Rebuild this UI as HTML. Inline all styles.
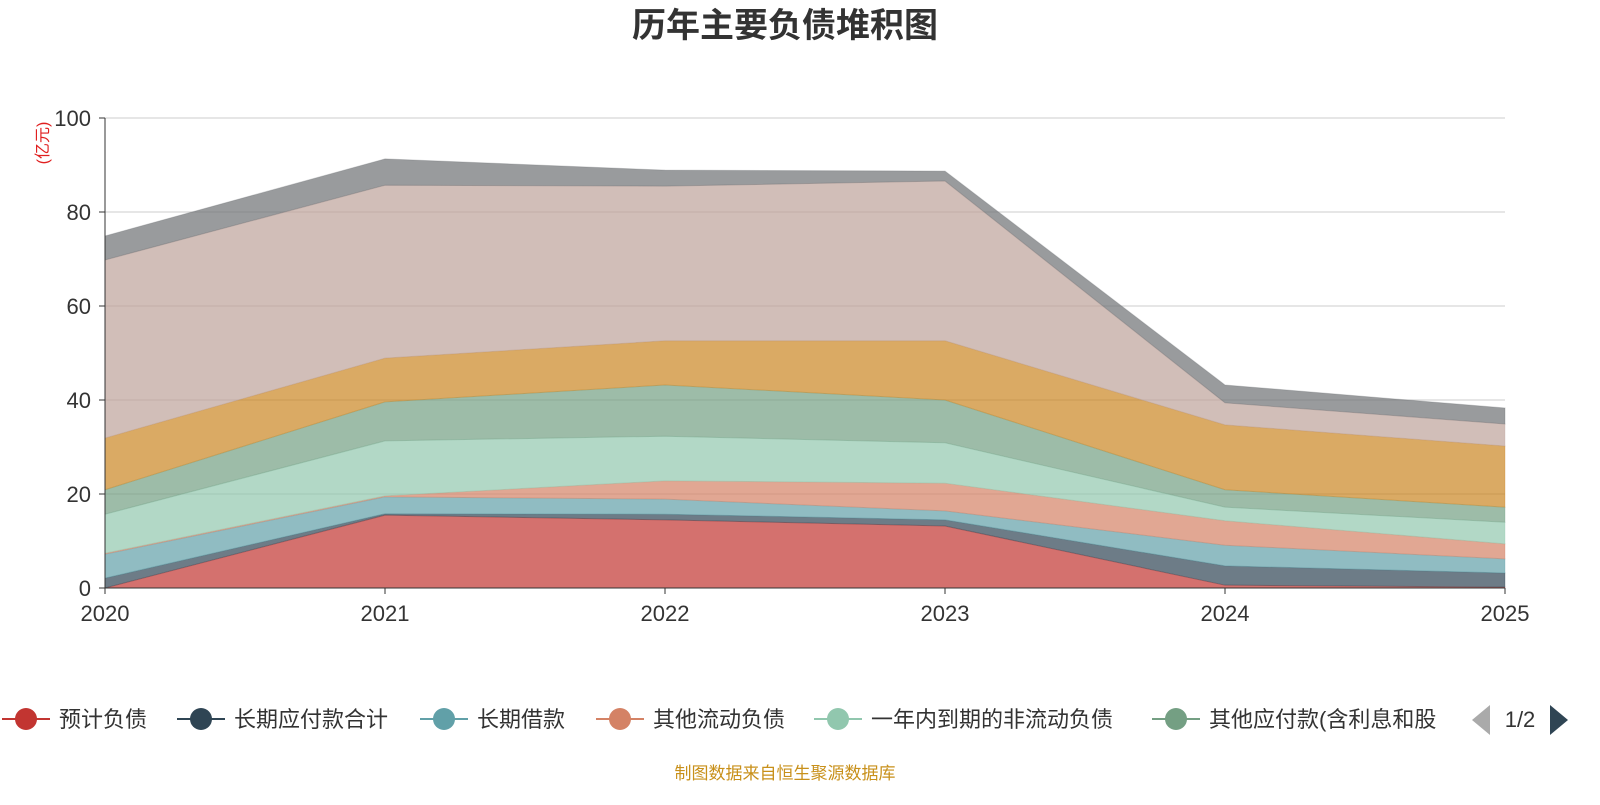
<!DOCTYPE html>
<html><head><meta charset="utf-8"><style>
body{margin:0;background:#fff;width:1600px;height:800px;overflow:hidden;font-family:"Liberation Sans","Noto Sans CJK SC",sans-serif}
</style></head><body>
<svg id="c" width="1600" height="800" xmlns="http://www.w3.org/2000/svg">
<text x="785" y="37" text-anchor="middle" font-size="34" font-weight="bold" fill="#333" font-family="Liberation Sans,Noto Sans CJK SC,sans-serif">历年主要负债堆积图</text>
<text transform="translate(48,143) rotate(-90)" text-anchor="middle" font-size="16" fill="#e02020" font-family="Liberation Sans,Noto Sans CJK SC,sans-serif">(亿元)</text>
<g id="grid"></g><g id="areas"></g><g id="axes"></g><g id="legend"></g>
<text x="785" y="779" text-anchor="middle" font-size="17" fill="#c8901a" font-family="Liberation Sans,Noto Sans CJK SC,sans-serif">制图数据来自恒生聚源数据库</text>
</svg>
<script>
const years=["2020","2021","2022","2023","2024","2025"];
const yTicks=[0,20,40,60,80,100];
const seriesNames=["预计负债","长期应付款合计","长期借款","其他流动负债","一年内到期的非流动负债","其他应付款(含利息和股","s7","s8","s9"];
const s1=[0,15.5,14.5,13.2,0.6,0.2];
const s2=[2.1,0.3,1.2,1.3,4.1,3.0];
const s3=[5.1,3.6,3.2,1.9,4.4,3.0];
const s4=[0.2,0.2,3.9,5.9,5.2,3.2];
const s5=[8.3,11.7,9.5,8.6,2.9,4.6];
const s6=[5.2,8.3,10.9,9.1,3.7,3.2];
const s7=[11.0,9.3,9.4,12.6,13.8,13.0];
const s8=[37.9,36.8,32.9,34.0,4.7,4.7];
const s9=[5.1,5.6,3.4,2.1,3.8,3.4];
const series=[s1,s2,s3,s4,s5,s6,s7,s8,s9];
const colors=["#c23531","#2f4554","#61a0a8","#d48265","#91c7ae","#749f83","#ca8622","#bda29a","#6e7074"];
const NS="http://www.w3.org/2000/svg";
const X0=105,X1=1505,Y0=588,Y1=118;
const xs=i=>X0+(X1-X0)*i/(years.length-1);
const ys=v=>Y0-(Y0-Y1)*v/100;
function mk(t,a,p){const e=document.createElementNS(NS,t);for(const k in a)e.setAttribute(k,a[k]);p.appendChild(e);return e;}
const grid=document.getElementById('grid'),axes=document.getElementById('axes'),areas=document.getElementById('areas'),leg=document.getElementById('legend');
yTicks.forEach(t=>{
 const l=mk('line',{x1:X0,x2:X1,y1:ys(t),y2:ys(t),stroke:'#ccc','stroke-width':1},grid);
 
 
 const tx=mk('text',{x:X0-14,y:ys(t)+8,'text-anchor':'end','font-size':22,fill:'#333'},axes);
 tx.textContent=t;
 
 
 const tk=mk('line',{x1:X0-6,x2:X0,y1:ys(t),y2:ys(t),stroke:'#333'},axes);
 
 
});
let cum=years.map(()=>0);
series.forEach((s,k)=>{
 const lo=cum.slice();cum=cum.map((c,i)=>c+s[i]);
 let d='M'+years.map((_,i)=>xs(i)+','+ys(cum[i])).join('L');
 for(let i=years.length-1;i>=0;i--)d+='L'+xs(i)+','+ys(lo[i]);
 const p=mk('path',{d:d+'Z',fill:colors[k],'fill-opacity':0.7,stroke:colors[k],'stroke-opacity':0.3},areas);
 
 
});
const ax=mk('line',{x1:X0,x2:X1,y1:Y0,y2:Y0,stroke:'#333'},axes);


const ay=mk('line',{x1:X0,x2:X0,y1:Y0,y2:Y1,stroke:'#333'},axes);


years.forEach((y,i)=>{
 const t=mk('text',{x:xs(i),y:621,'text-anchor':'middle','font-size':22,fill:'#333'},axes);
 t.textContent=y;
 
 
 const tk=mk('line',{x1:xs(i),x2:xs(i),y1:Y0,y2:Y0+6,stroke:'#333'},axes);
 
 
});
const lx=[0,175,418,594,812,1150];
for(let k=0;k<6;k++){
 const g=mk('g',{},leg);
 
 
 const x=lx[k];
 mk('line',{x1:x+2,x2:x+50,y1:719,y2:719,stroke:colors[k],'stroke-width':2},g);
 mk('circle',{cx:x+26,cy:719,r:11,fill:colors[k]},g);
 const t=mk('text',{x:x+59,y:727,'font-size':22,fill:'#333'},g);
 t.textContent=seriesNames[k];
}
const pl=mk('path',{d:'M1490,705L1490,735L1472,720Z',fill:'#aaa'},leg);


const pt=mk('text',{x:1520,y:727,'text-anchor':'middle','font-size':22,fill:'#333'},leg);
pt.textContent='1/2';


const pn=mk('path',{d:'M1550,705L1550,735L1568,720Z',fill:'#2f4554'},leg);


</script>
</body></html>
